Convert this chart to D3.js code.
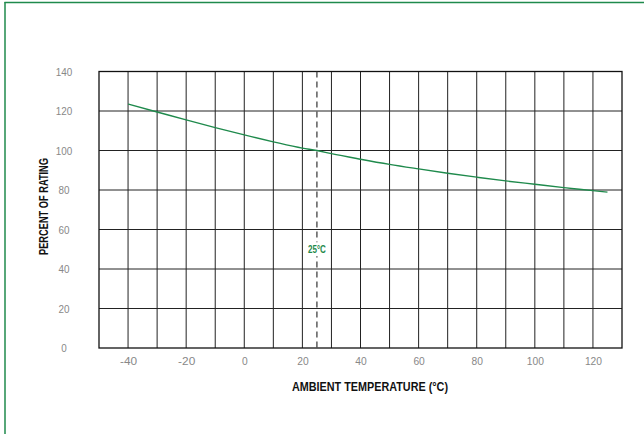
<!DOCTYPE html>
<html>
<head>
<meta charset="utf-8">
<script src="https://cdn.jsdelivr.net/npm/d3@7"></script>
<style>
  body { margin: 0; background: #fff; }
  svg { display: block; }
  text { font-family: "Liberation Sans Narrow", "Liberation Sans", sans-serif; font-stretch: condensed; }
  .tick text { font-size: 11.5px; fill: #888; }
  .axisLabel { font-size: 12.5px; font-weight: bold; fill: #111; }
</style>
</head>
<body>
<div id="chart"></div>
<script>
//data
var temps = [-40, -30, -20, -10, 0, 10, 20, 25, 30, 40, 50, 60, 70, 80, 90, 100, 110, 120, 125];
var rating = [123.5, 119.5, 115.5, 111.6, 107.9, 104.4, 101.2, 100, 98.4, 95.6, 93.0, 90.7, 88.5, 86.5, 84.6, 82.9, 81.2, 79.7, 78.9];
var xTicks = [-40, -20, 0, 20, 40, 60, 80, 100, 120];
var yTicks = [0, 20, 40, 60, 80, 100, 120, 140];
var refTemp = 25;
var refLabel = "25°C";

var W = 644, H = 434;
var margin = {top: 71.5, right: 22, bottom: 86, left: 99};
var width = W - margin.left - margin.right;
var height = H - margin.top - margin.bottom;

var green = "#1f8a4c";

var svg = d3.select("#chart").append("svg")
    .attr("width", W)
    .attr("height", H);

//frame lines (top + left only)
svg.append("line").attr("x1", 4.5).attr("x2", W).attr("y1", 2.5).attr("y2", 2.5)
    .attr("stroke", green).attr("stroke-width", 1.5);
svg.append("line").attr("x1", 5).attr("x2", 5).attr("y1", 2).attr("y2", H)
    .attr("stroke", green).attr("stroke-width", 1.5);

var g = svg.append("g").attr("transform", "translate(" + margin.left + "," + margin.top + ")");

//scales
var x = d3.scaleLinear().domain([-50, 130]).range([0, width]);
var y = d3.scaleLinear().domain([0, 140]).range([height, 0]);

//grid
g.selectAll(".vgrid").data(d3.range(-40, 130, 10)).enter().append("line")
    .attr("x1", function(d) { return x(d); }).attr("x2", function(d) { return x(d); })
    .attr("y1", 0).attr("y2", height)
    .attr("stroke", "#222").attr("stroke-width", 1);
g.selectAll(".hgrid").data(d3.range(20, 140, 20)).enter().append("line")
    .attr("x1", 0).attr("x2", width)
    .attr("y1", function(d) { return y(d); }).attr("y2", function(d) { return y(d); })
    .attr("stroke", "#222").attr("stroke-width", 1);
g.append("rect").attr("width", width).attr("height", height)
    .attr("fill", "none").attr("stroke", "#111").attr("stroke-width", 1.3);

//axes
var fmt = function(d) { return String(d); };
g.append("g").attr("transform", "translate(0," + height + ")")
    .call(d3.axisBottom(x).tickValues(xTicks).tickSize(0).tickPadding(8.5).tickFormat(fmt))
    .call(function(s) { s.select(".domain").remove(); })
    .selectAll("text")
    .attr("textLength", function(d) { return String(d).length * 5.7; })
    .attr("lengthAdjust", "spacingAndGlyphs");
g.append("g")
    .call(d3.axisLeft(y).tickValues(yTicks).tickSize(0).tickFormat(fmt))
    .call(function(s) { s.select(".domain").remove(); })
    .selectAll("text")
    .attr("x", 64 - margin.left)
    .attr("text-anchor", "middle")
    .attr("textLength", function(d) { return String(d).length * 5.5; })
    .attr("lengthAdjust", "spacingAndGlyphs");

//reference line
g.append("line")
    .attr("x1", x(refTemp)).attr("x2", x(refTemp))
    .attr("y1", 0).attr("y2", height)
    .attr("stroke", "#333").attr("stroke-width", 1.2)
    .attr("stroke-dasharray", "6,4");

//label box for the reference line
var lab = g.append("g").attr("transform", "translate(" + x(refTemp) + "," + y(50) + ")");
lab.append("rect")
    .attr("x", -11).attr("y", -7)
    .attr("width", 22).attr("height", 14)
    .attr("fill", "#fff");
lab.append("text")
    .attr("y", 3.5)
    .attr("text-anchor", "middle")
    .attr("textLength", 18).attr("lengthAdjust", "spacingAndGlyphs")
    .style("font-size", "10px").style("font-weight", "bold")
    .attr("fill", green)
    .text(refLabel);

//curve
var line = d3.line()
    .x(function(d, i) { return x(temps[i]); })
    .y(function(d) { return y(d); })
    .curve(d3.curveMonotoneX);
g.append("path").datum(rating)
    .attr("d", line)
    .attr("fill", "none").attr("stroke", green).attr("stroke-width", 1.4);

//axis labels
svg.append("text").attr("class", "axisLabel")
    .attr("x", 370).attr("y", 391)
    .attr("text-anchor", "middle")
    .attr("textLength", 156).attr("lengthAdjust", "spacingAndGlyphs")
    .text("AMBIENT TEMPERATURE (°C)");
svg.append("text").attr("class", "axisLabel")
    .attr("transform", "translate(47.5,206.5) rotate(-90)")
    .attr("text-anchor", "middle")
    .attr("textLength", 97).attr("lengthAdjust", "spacingAndGlyphs")
    .text("PERCENT OF RATING");
</script>
</body>
</html>
